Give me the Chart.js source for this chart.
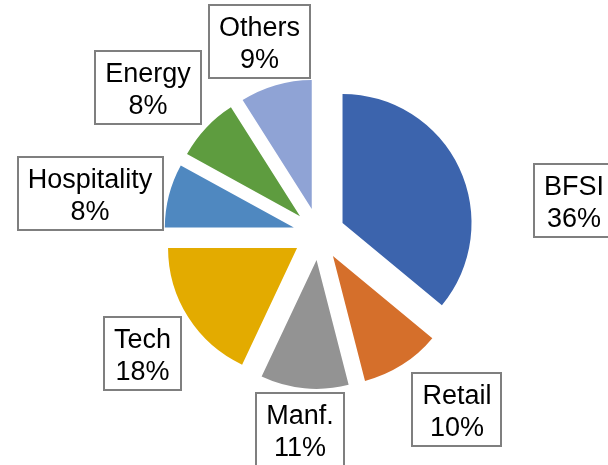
<!DOCTYPE html>
<html>
<head>
<meta charset="utf-8">
<script src="https://cdn.jsdelivr.net/npm/chart.js@4.4.1/dist/chart.umd.min.js"></script>
<style>
  html, body { margin: 0; padding: 0; background: #ffffff; }
  #wrap { width: 608px; height: 465px; }
</style>
</head>
<body>
<div id="wrap"><canvas id="pie" width="608" height="465"></canvas></div>
<script>
// Share of business by sector (percent)
const sectors = ['BFSI', 'Retail', 'Manf.', 'Tech', 'Hospitality', 'Energy', 'Others'];
const shares = [36, 10, 11, 18, 8, 8, 9];

// Slice fills, in sector order
const sliceColors = ['#3c64ad', '#d56f2b', '#939393', '#e3ab00', '#4f88c0', '#5e9c3f', '#8fa3d5'];

// Callout box centres (canvas pixels), in sector order
const calloutCentres = [[574, 200.5], [457, 409.5], [300, 429.5], [142.5, 353], [90, 193.5], [148, 87], [259.5, 41]];

const FONT = '27px "Liberation Sans", Arial, sans-serif';

// Pull each slice outward along its bisector
const explodePlugin = {
  id: 'explode',
  beforeDatasetDraw(chart, args, opts) {
    const ctx = chart.ctx;
    args.meta.data.forEach(arc => {
      const { startAngle, endAngle } = arc.getProps(['startAngle', 'endAngle'], true);
      const mid = (startAngle + endAngle) / 2;
      ctx.save();
      ctx.translate(Math.cos(mid) * opts.distance, Math.sin(mid) * opts.distance);
      arc.draw(ctx, chart.chartArea);
      ctx.restore();
    });
    return false;
  }
};

// Boxed category / percentage callouts
const calloutPlugin = {
  id: 'callouts',
  afterDraw(chart, args, opts) {
    const ctx = chart.ctx;
    const labels = chart.data.labels;
    const values = chart.data.datasets[0].data;
    ctx.save();
    ctx.font = FONT;
    ctx.textAlign = 'center';
    ctx.textBaseline = 'alphabetic';
    labels.forEach((name, i) => {
      const lines = [name, values[i] + '%'];
      const w = Math.max(...lines.map(t => ctx.measureText(t).width)) + 2 * opts.padX;
      const h = opts.height;
      const [cx, cy] = opts.centres[i];
      const x = Math.round(cx - w / 2), y = Math.round(cy - h / 2);
      ctx.fillStyle = '#ffffff';
      ctx.fillRect(x, y, Math.round(w), h);
      ctx.strokeStyle = opts.border;
      ctx.lineWidth = 2;
      ctx.strokeRect(x, y, Math.round(w), h);
      ctx.fillStyle = '#000000';
      ctx.fillText(lines[0], cx, cy - 5.5);
      ctx.fillText(lines[1], cx, cy + 26.5);
    });
    ctx.restore();
  }
};

new Chart(document.getElementById('pie'), {
  type: 'pie',
  data: {
    labels: sectors,
    datasets: [{
      data: shares,
      backgroundColor: sliceColors,
      borderWidth: 0,
      radius: 129
    }]
  },
  options: {
    responsive: false,
    animation: false,
    layout: { padding: { left: 30, right: 0, top: 3, bottom: 0 } },
    plugins: {
      legend: { display: false },
      tooltip: { enabled: false },
      explode: { distance: 26 },
      callouts: { centres: calloutCentres, padX: 10, height: 73, border: '#7f7f7f' }
    }
  },
  plugins: [explodePlugin, calloutPlugin]
});
</script>
</body>
</html>
